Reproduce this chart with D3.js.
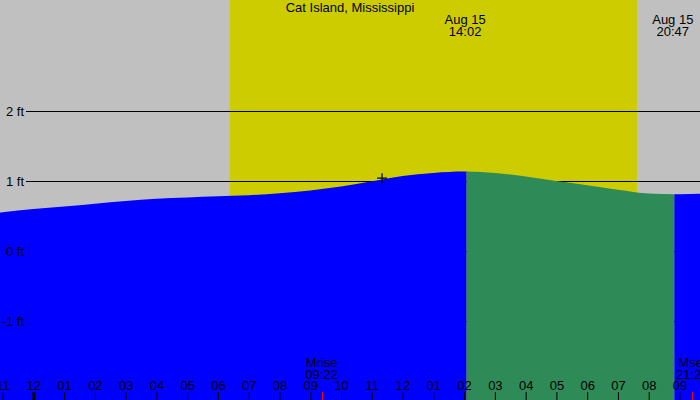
<!DOCTYPE html>
<html>
<head>
<meta charset="utf-8">
<script src="https://cdn.jsdelivr.net/npm/d3@7"></script>
<style>
  body { margin: 0; background: #fff; }
  svg text { font-family: "Liberation Sans", Arial, sans-serif; font-size: 13px; fill: #000; }
</style>
</head>
<body>
<div id="chart"></div>
<script>
// tide heights, hours from midnight Aug 15
var tideHours = [-2, -1, 0, 1, 2, 3, 4, 5, 6, 7, 8, 9, 10, 11, 12, 13, 14, 15, 16, 17, 18, 19, 20, 21, 22];
var tideFeet = [0.50, 0.555, 0.60, 0.635, 0.675, 0.715, 0.748, 0.766, 0.781, 0.797, 0.825, 0.865, 0.92, 0.995, 1.07,
                1.115, 1.135, 1.115, 1.065, 1.00, 0.94, 0.875, 0.822, 0.812, 0.822];

var title = "Cat Island, Mississippi";
var sunTimes = ["06:23", "19:37"];          // sunrise, sunset
var tideEventDates = ["Aug 15", "Aug 15"];
var tideEventTimes = ["14:02", "20:47"];    // high, low
var moonLabels = ["Mrise", "Mset"];
var moonTimes = ["09:22", "21:25"];
var nowTime = "11:20";
var nowFeet = 1.04;
var yTicks = [-1, 0, 1, 2];

var width = 700, height = 400;

function day15(t) {
    var p = t.split(":");
    return new Date(2024, 7, 15, +p[0], +p[1]);
}
function fromHour(h) {
    return new Date(2024, 7, 15, 0, 0).getTime() + h * 3600000;
}

var x = d3.scaleTime()
    .domain([new Date(2024, 7, 14, 22, 55), new Date(2024, 7, 15, 21, 40)])
    .range([0, width]);
var y = d3.scaleLinear().domain([-1, 2]).range([321, 111]);

var svg = d3.select('#chart').append('svg')
    .attr('width', width).attr('height', height);

// night background + daylight
svg.append('rect').attr('width', width).attr('height', height).attr('fill', '#c0c0c0');
svg.append('rect')
    .attr('x', x(day15(sunTimes[0])))
    .attr('width', x(day15(sunTimes[1])) - x(day15(sunTimes[0])))
    .attr('y', 0).attr('height', height)
    .attr('fill', '#cccc00');

// grid lines (water covers the lower ones)
svg.selectAll('line.grid')
    .data(yTicks)
    .enter()
    .append('line')
    .attr('class', 'grid')
    .attr('x1', 26).attr('x2', width)
    .attr('y1', function (d) { return Math.round(y(d)) + 0.5; })
    .attr('y2', function (d) { return Math.round(y(d)) + 0.5; })
    .attr('stroke', '#000');

// water, blue while rising, green while falling
var tide = tideHours.map(function (h, i) { return { t: fromHour(h), v: tideFeet[i] }; });
var area = d3.area()
    .curve(d3.curveMonotoneX)
    .x(function (d) { return x(d.t); })
    .y0(height)
    .y1(function (d) { return y(d.v); });

var xHigh = x(day15(tideEventTimes[0])) + 1.5, xLow = x(day15(tideEventTimes[1])) + 1.5;
var segs = [[0, xHigh, '#0000ff'], [xHigh, xLow, '#2e8b57'], [xLow, width, '#0000ff']];
var defs = svg.append('defs');
segs.forEach(function (s, i) {
    defs.append('clipPath').attr('id', 'seg' + i)
        .append('rect').attr('x', s[0]).attr('y', 0)
        .attr('width', s[1] - s[0]).attr('height', height);
    svg.append('path')
        .datum(tide)
        .attr('d', area)
        .attr('fill', s[2])
        .attr('clip-path', 'url(#seg' + i + ')');
});

// y labels
svg.selectAll('text.ylab')
    .data(yTicks)
    .enter()
    .append('text')
    .attr('class', 'ylab')
    .attr('x', 24)
    .attr('y', function (d) { return y(d) + 4.5; })
    .attr('text-anchor', 'end')
    .text(function (d) { return d + ' ft'; });

// current time marker
var nx = x(day15(nowTime)), ny = y(nowFeet);
svg.append('path')
    .attr('d', 'M' + (nx - 5) + ',' + ny + 'H' + (nx + 5) + 'M' + nx + ',' + (ny - 5) + 'V' + (ny + 5))
    .attr('stroke', '#000').attr('stroke-width', 1.2);

// title
svg.append('text').attr('x', 350).attr('y', 12).attr('text-anchor', 'middle').text(title);

// tide event labels
tideEventTimes.forEach(function (t, i) {
    var g = svg.append('text').attr('text-anchor', 'middle');
    g.append('tspan').attr('x', x(day15(t))).attr('y', 24).text(tideEventDates[i]);
    g.append('tspan').attr('x', x(day15(t))).attr('y', 36).text(t);
});

// moon rise / set
moonTimes.forEach(function (t, i) {
    var mx = x(day15(t));
    var g = svg.append('text').attr('text-anchor', 'middle');
    g.append('tspan').attr('x', mx).attr('y', 366.5).text(moonLabels[i]);
    g.append('tspan').attr('x', mx).attr('y', 378.5).text(t);
    svg.append('line')
        .attr('x1', Math.round(mx) + 0.5).attr('x2', Math.round(mx) + 0.5)
        .attr('y1', 392).attr('y2', height)
        .attr('stroke', '#ff0000');
});

// hour axis
var axis = d3.axisTop(x)
    .ticks(d3.timeHour.every(1))
    .tickFormat(d3.timeFormat('%I'))
    .tickSize(8)
    .tickPadding(2);
var ax = svg.append('g').attr('transform', 'translate(0,' + height + ')').call(axis);
ax.select('.domain').remove();
ax.attr('font-family', null).attr('font-size', null);
ax.selectAll('.tick line').attr('stroke', '#000')
    .attr('stroke-width', function (d) { return d.getHours() === 0 ? 3 : 1; });
ax.selectAll('.tick text').attr('fill', '#000');
</script>
</body>
</html>
